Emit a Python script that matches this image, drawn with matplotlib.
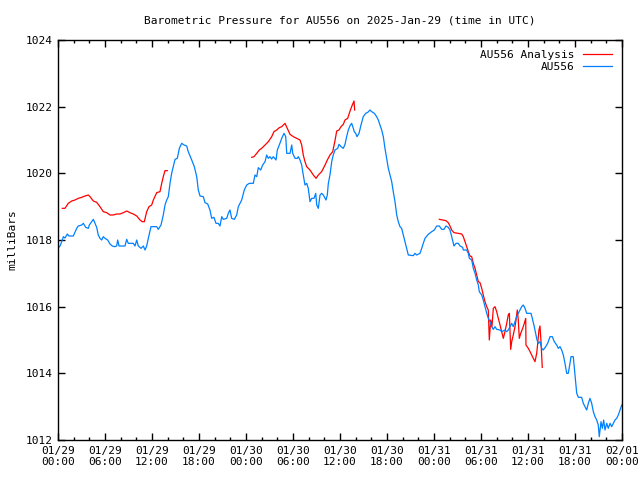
import matplotlib
matplotlib.use("Agg")
import matplotlib.pyplot as plt
from matplotlib.ticker import MultipleLocator

# Hours since 2025-01-29 00:00 UTC
obs_hours = [0.00, 0.26, 0.55, 0.68, 0.89, 1.19, 1.40, 1.95, 2.39, 2.59, 3.03, 3.23, 3.54, 3.87, 4.00, 4.30, 4.51, 4.72, 4.94, 5.14,
             5.36, 5.58, 5.78, 6.00, 6.34, 6.64, 6.93, 7.19, 7.49, 7.62, 7.79, 8.55, 8.77, 8.97, 9.61, 9.83, 10.05, 10.25, 10.60, 10.89,
             11.11, 11.32, 11.53, 11.87, 12.60, 12.80, 13.15, 13.44, 13.66, 13.88, 14.08, 14.30, 14.51, 14.94, 15.23, 15.49, 15.79, 16.09, 16.43, 16.63,
             17.07, 17.40, 17.71, 17.91, 18.13, 18.55, 18.77, 19.11, 19.40, 19.62, 19.91, 20.17, 20.46, 20.68, 20.90, 21.10, 21.54, 21.74, 21.96, 22.17,
             22.51, 22.81, 23.02, 23.45, 23.78, 24.09, 24.42, 24.93, 25.15, 25.37, 25.57, 25.88, 26.13, 26.43, 26.64, 26.85, 27.06, 27.28, 27.48, 27.83,
             28.00, 28.25, 28.56, 28.85, 29.07, 29.20, 29.62, 29.84, 29.96, 30.26, 30.55, 30.68, 30.89, 31.11, 31.31, 31.53, 31.75, 31.95, 32.17, 32.39,
             32.68, 32.90, 33.03, 33.23, 33.45, 33.66, 33.87, 34.21, 34.38, 34.51, 34.72, 34.94, 35.14, 35.36, 35.71, 35.87, 36.13, 36.42, 36.64, 36.85,
             37.06, 37.28, 37.49, 37.70, 37.82, 38.00, 38.17, 38.43, 38.68, 38.97, 39.28, 39.54, 39.83, 40.05, 40.38, 40.68, 40.89, 41.11, 41.32, 41.53,
             41.74, 41.96, 42.17, 42.38, 42.60, 42.80, 43.02, 43.24, 43.44, 43.66, 43.87, 44.08, 44.30, 44.51, 44.72, 45.36, 45.57, 45.79, 46.21, 46.43,
             46.63, 46.85, 47.27, 47.71, 48.04, 48.34, 48.68, 48.98, 49.28, 49.53, 49.82, 50.04, 50.26, 50.55, 50.81, 51.10, 51.32, 51.66, 51.74, 52.17,
             52.38, 52.51, 52.81, 53.02, 53.24, 53.45, 53.66, 53.78, 54.09, 54.29, 54.51, 54.73, 54.93, 55.15, 55.36, 55.57, 55.79, 56.00, 56.43, 56.64,
             57.06, 57.28, 57.48, 57.70, 57.92, 58.12, 58.34, 58.56, 58.76, 58.98, 59.19, 59.40, 59.62, 59.83, 60.38, 60.55, 60.80, 60.98, 61.15, 61.31,
             61.53, 61.75, 61.95, 62.26, 62.51, 62.81, 63.10, 63.36, 63.66, 63.87, 64.09, 64.30, 64.51, 64.72, 64.94, 65.14, 65.36, 65.49, 65.78, 66.00,
             66.22, 66.43, 66.85, 67.06, 67.28, 67.49, 67.70, 67.91, 68.13, 68.34, 68.55, 68.77, 68.97, 69.10, 69.32, 69.49, 69.66, 69.83, 70.05, 70.25,
             70.47, 70.68, 70.89, 71.11, 71.32, 71.53, 71.75, 71.97]
obs_mb = [1017.75, 1017.82, 1018.00, 1018.10, 1018.06, 1018.18, 1018.12, 1018.12, 1018.35, 1018.42, 1018.45, 1018.50, 1018.38, 1018.35, 1018.45, 1018.55, 1018.62, 1018.50, 1018.38, 1018.15,
          1018.05, 1018.00, 1018.10, 1018.05, 1018.00, 1017.88, 1017.82, 1017.80, 1017.82, 1018.00, 1017.82, 1017.82, 1018.02, 1017.90, 1017.90, 1017.82, 1018.00, 1017.82, 1017.75, 1017.82,
          1017.70, 1017.82, 1018.05, 1018.40, 1018.40, 1018.32, 1018.45, 1018.75, 1019.05, 1019.20, 1019.30, 1019.70, 1020.00, 1020.42, 1020.45, 1020.75, 1020.90, 1020.85, 1020.82, 1020.65,
          1020.40, 1020.20, 1019.90, 1019.50, 1019.32, 1019.30, 1019.12, 1019.08, 1018.90, 1018.65, 1018.68, 1018.50, 1018.50, 1018.42, 1018.70, 1018.62, 1018.65, 1018.80, 1018.90, 1018.65,
          1018.62, 1018.75, 1019.00, 1019.20, 1019.50, 1019.65, 1019.70, 1019.70, 1019.95, 1019.90, 1020.17, 1020.10, 1020.25, 1020.35, 1020.55, 1020.45, 1020.50, 1020.43, 1020.50, 1020.40,
          1020.70, 1020.85, 1021.05, 1021.20, 1021.10, 1020.60, 1020.60, 1020.85, 1020.60, 1020.45, 1020.45, 1020.50, 1020.40, 1020.25, 1019.95, 1019.65, 1019.70, 1019.55, 1019.15, 1019.25,
          1019.25, 1019.40, 1019.05, 1018.95, 1019.35, 1019.40, 1019.35, 1019.20, 1019.35, 1019.70, 1019.95, 1020.35, 1020.55, 1020.70, 1020.75, 1020.87, 1020.80, 1020.75, 1020.87, 1021.10,
          1021.30, 1021.43, 1021.50, 1021.35, 1021.25, 1021.20, 1021.10, 1021.20, 1021.45, 1021.70, 1021.80, 1021.83, 1021.90, 1021.85, 1021.80, 1021.70, 1021.60, 1021.45, 1021.30, 1021.10,
          1020.75, 1020.45, 1020.15, 1019.95, 1019.75, 1019.45, 1019.15, 1018.75, 1018.55, 1018.40, 1018.35, 1018.15, 1017.95, 1017.75, 1017.55, 1017.53, 1017.60, 1017.55, 1017.60, 1017.75,
          1017.90, 1018.05, 1018.17, 1018.25, 1018.30, 1018.42, 1018.42, 1018.32, 1018.32, 1018.42, 1018.38, 1018.30, 1018.10, 1017.82, 1017.90, 1017.90, 1017.82, 1017.78, 1017.70, 1017.70,
          1017.60, 1017.45, 1017.40, 1017.15, 1017.00, 1016.80, 1016.65, 1016.45, 1016.35, 1016.20, 1016.00, 1015.80, 1015.65, 1015.55, 1015.40, 1015.32, 1015.40, 1015.32, 1015.30, 1015.25,
          1015.30, 1015.25, 1015.30, 1015.40, 1015.50, 1015.40, 1015.55, 1015.70, 1015.80, 1015.90, 1016.00, 1016.05, 1015.95, 1015.80, 1015.80, 1015.65, 1015.40, 1015.20, 1015.00, 1014.90,
          1014.95, 1014.75, 1014.70, 1014.80, 1014.90, 1015.10, 1015.10, 1014.95, 1014.85, 1014.75, 1014.80, 1014.70, 1014.55, 1014.30, 1014.00, 1014.00, 1014.30, 1014.50, 1014.50, 1013.95,
          1013.40, 1013.28, 1013.28, 1013.10, 1013.00, 1012.90, 1013.10, 1013.25, 1013.10, 1012.85, 1012.70, 1012.60, 1012.45, 1012.10, 1012.55, 1012.35, 1012.60, 1012.30, 1012.50, 1012.35,
          1012.50, 1012.40, 1012.50, 1012.60, 1012.65, 1012.75, 1012.90, 1013.05]

ana1_hours = [0.55, 0.89, 1.31, 1.75, 2.17, 2.59, 3.03, 3.45, 3.87, 4.09, 4.51, 4.94, 5.36, 5.78, 6.22, 6.64, 7.06, 7.49, 7.91, 8.34,
              8.77, 9.19, 9.61, 10.05, 10.47, 10.76, 11.02, 11.32, 11.62, 11.96, 12.17, 12.60, 13.02, 13.24, 13.44, 13.66, 13.95]
ana1_mb = [1018.95, 1018.95, 1019.10, 1019.17, 1019.20, 1019.25, 1019.28, 1019.32, 1019.35, 1019.30, 1019.17, 1019.13, 1019.00, 1018.85, 1018.82, 1018.75, 1018.75, 1018.78, 1018.78, 1018.82,
           1018.87, 1018.82, 1018.78, 1018.72, 1018.60, 1018.55, 1018.55, 1018.85, 1019.00, 1019.05, 1019.20, 1019.42, 1019.45, 1019.70, 1019.90, 1020.08, 1020.08]

ana2_hours = [24.73, 25.02, 25.37, 25.70, 26.00, 26.43, 26.85, 27.28, 27.57, 27.92, 28.25, 28.56, 28.98, 29.27, 29.62, 30.04, 30.47, 30.89, 31.11, 31.31,
              31.53, 31.75, 32.17, 32.59, 32.94, 33.23, 33.66, 34.09, 34.38, 34.72, 35.07, 35.36, 35.58, 35.87, 36.13, 36.42, 36.64, 36.98, 37.28, 37.57,
              37.79, 37.87]
ana2_mb = [1020.48, 1020.50, 1020.60, 1020.70, 1020.75, 1020.85, 1020.95, 1021.10, 1021.25, 1021.30, 1021.37, 1021.40, 1021.50, 1021.35, 1021.17, 1021.10, 1021.05, 1021.00, 1020.85, 1020.55,
           1020.35, 1020.20, 1020.10, 1019.95, 1019.85, 1019.95, 1020.05, 1020.25, 1020.40, 1020.55, 1020.65, 1020.98, 1021.27, 1021.30, 1021.40, 1021.47, 1021.60, 1021.65, 1021.87, 1022.05,
           1022.17, 1021.90]

ana3_hours = [48.68, 49.11, 49.53, 49.82, 50.04, 50.26, 50.55, 51.10, 51.54, 51.74, 51.96, 52.17, 52.38, 52.60, 52.81, 53.02, 53.24, 53.45, 53.66, 53.87,
              54.09, 54.29, 54.51, 54.73, 54.93, 55.06, 55.24, 55.40, 55.57, 55.79, 56.00, 56.21, 56.43, 56.64, 56.85, 57.06, 57.28, 57.48, 57.62, 57.79,
              57.92, 58.12, 58.34, 58.47, 58.63, 58.76, 58.89, 59.07, 59.32, 59.53, 59.71, 59.74, 60.04, 60.26, 60.47, 60.68, 60.89, 61.11, 61.24, 61.40,
              61.53, 61.66, 61.82]
ana3_mb = [1018.62, 1018.60, 1018.58, 1018.52, 1018.42, 1018.30, 1018.22, 1018.20, 1018.18, 1018.10, 1017.95, 1017.80, 1017.65, 1017.52, 1017.50, 1017.30, 1017.15, 1016.95, 1016.75, 1016.72,
           1016.55, 1016.35, 1016.15, 1016.00, 1015.90, 1015.00, 1015.60, 1015.40, 1015.95, 1016.00, 1015.85, 1015.65, 1015.45, 1015.25, 1015.05, 1015.25, 1015.50, 1015.75, 1015.80, 1014.72,
           1014.95, 1015.15, 1015.40, 1015.60, 1015.90, 1015.60, 1015.05, 1015.20, 1015.35, 1015.50, 1015.65, 1014.85, 1014.75, 1014.65, 1014.55, 1014.45, 1014.35, 1014.60, 1014.90, 1015.30,
           1015.42, 1014.95, 1014.18]

tick_hours = [0, 6, 12, 18, 24, 30, 36, 42, 48, 54, 60, 66, 72]
tick_labels = ["01/29\n00:00", "01/29\n06:00", "01/29\n12:00", "01/29\n18:00",
               "01/30\n00:00", "01/30\n06:00", "01/30\n12:00", "01/30\n18:00",
               "01/31\n00:00", "01/31\n06:00", "01/31\n12:00", "01/31\n18:00",
               "02/01\n00:00"]

plt.rcParams['font.family'] = 'DejaVu Sans Mono'
fig = plt.figure(figsize=(6.4, 4.8), dpi=100)
ax = fig.add_axes([58/640, 40/480, (622-58)/640, 400/480])

red = '#ff0000'
blue = '#0080ff'
lw = 0.9
ax.plot(ana1_hours, ana1_mb, color=red, lw=lw, label='AU556 Analysis')
ax.plot(ana2_hours, ana2_mb, color=red, lw=lw)
ax.plot(ana3_hours, ana3_mb, color=red, lw=lw)
ax.plot(obs_hours, obs_mb, color=blue, lw=lw, label='AU556')

ax.set_xlim(0, 72)
ax.set_ylim(1012, 1024)
ax.set_xticks(tick_hours)
ax.set_xticklabels(tick_labels)
ax.xaxis.set_minor_locator(MultipleLocator(2))
ax.set_yticks(range(1012, 1025, 2))
ax.tick_params(which='both', direction='in', top=True, right=True, labelsize=8, width=1, color='black')
ax.tick_params(which='major', length=5, pad=4)
ax.tick_params(which='minor', length=2.5)
for s in ax.spines.values():
    s.set_linewidth(1)

ax.set_title('Barometric Pressure for AU556 on 2025-Jan-29 (time in UTC)', fontsize=8, pad=12)
ax.set_ylabel('milliBars', fontsize=8, labelpad=6)

ax.legend(loc='upper right', frameon=False, markerfirst=False, fontsize=8,
          handlelength=2.6, handletextpad=0.8, borderaxespad=0.5, labelspacing=0.15)

fig.savefig('out.png', dpi=100)
